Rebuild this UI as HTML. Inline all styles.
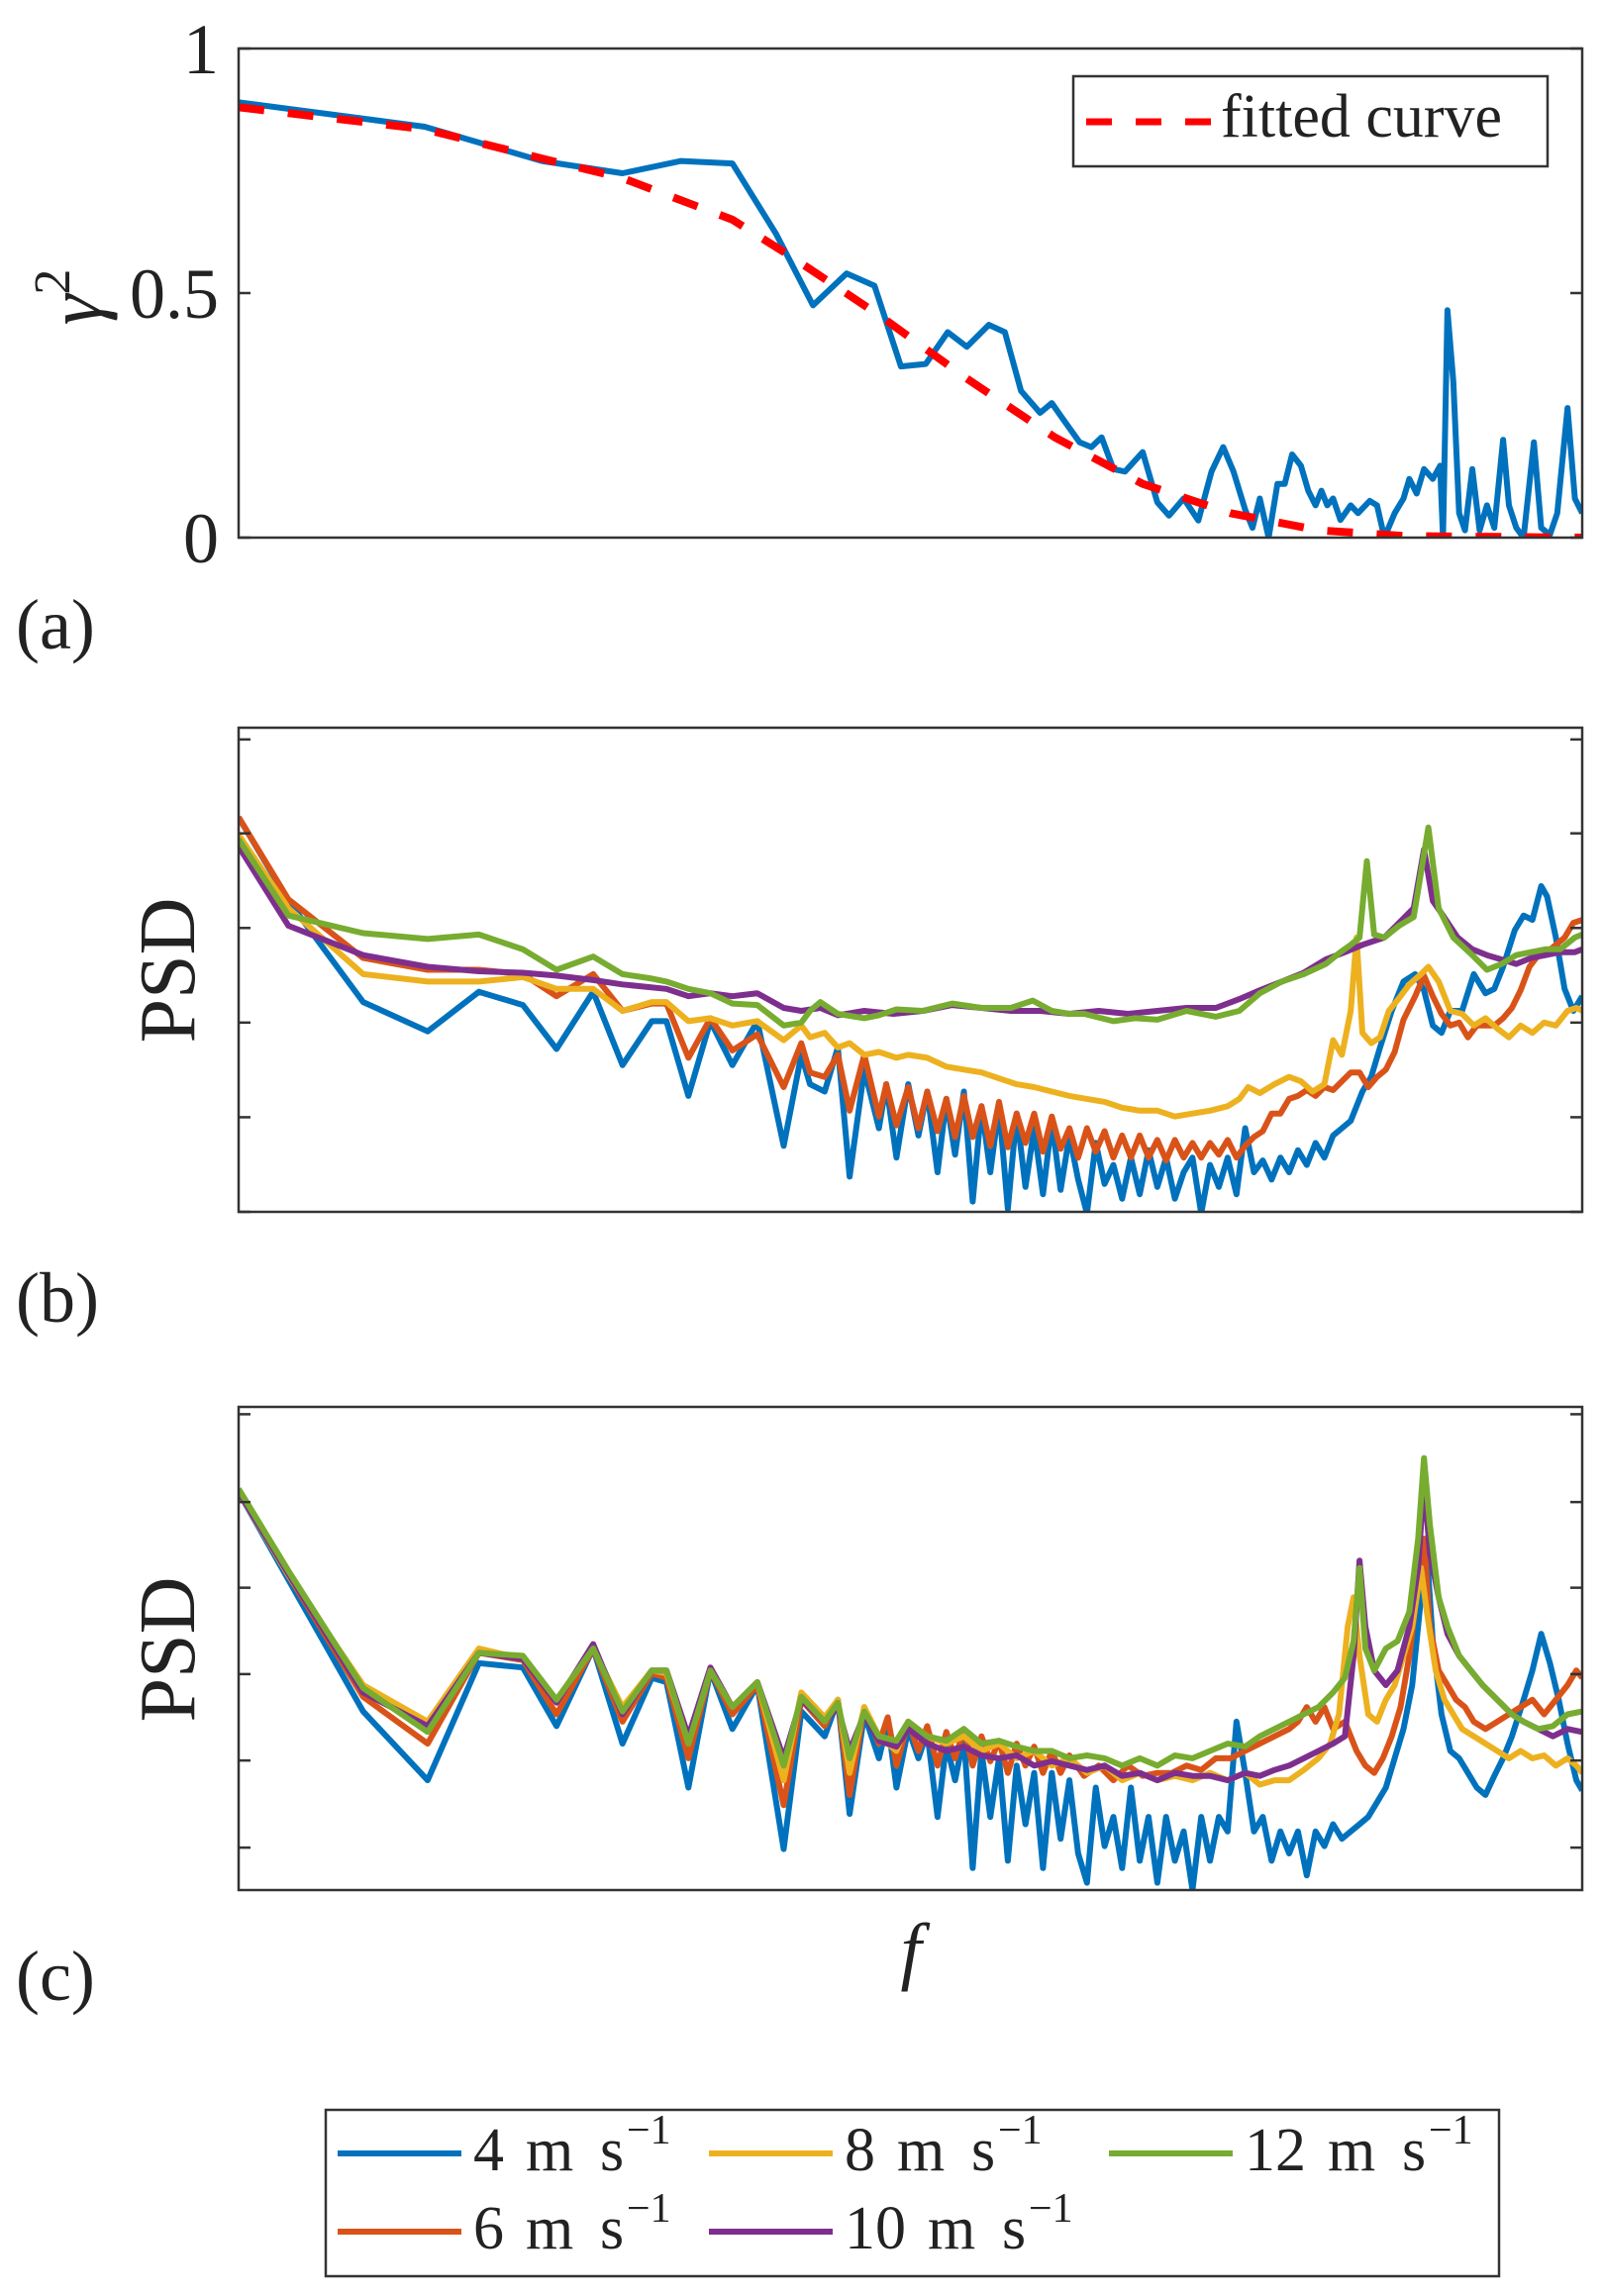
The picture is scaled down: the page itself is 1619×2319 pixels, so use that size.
<!DOCTYPE html>
<html><head><meta charset="utf-8"><style>
html,body{margin:0;padding:0;background:#fff;}
svg{display:block;}
text{font-family:"Liberation Serif","DejaVu Serif",serif;fill:#222;}
</style></head><body>
<svg id="fig" width="1619" height="2319" viewBox="0 0 1619 2319" xmlns="http://www.w3.org/2000/svg">
<defs>
<clipPath id="clipA"><rect x="241" y="49" width="1357" height="494"/></clipPath>
<clipPath id="clipB"><rect x="241" y="735" width="1357" height="489"/></clipPath>
<clipPath id="clipC"><rect x="241" y="1421" width="1357" height="488"/></clipPath>
</defs>
<g id="panelA"></g>
<g id="panelB"></g>
<g id="panelC"></g>

<text x="16" y="655" font-size="72">(a)</text>
<text x="16" y="1335" font-size="72">(b)</text>
<text x="16" y="2020" font-size="72">(c)</text>

<text transform="translate(102,300) rotate(-90)" text-anchor="middle" font-size="78" font-style="italic">γ<tspan font-size="52" font-style="normal" dy="-32">2</tspan></text>
<text transform="translate(196,980) rotate(-90)" text-anchor="middle" font-size="80">PSD</text>
<text transform="translate(196,1666) rotate(-90)" text-anchor="middle" font-size="80">PSD</text>
<text x="920" y="1995" text-anchor="middle" font-size="76" font-style="italic">f</text>

<g>
<rect x="1084" y="77" width="479" height="91" fill="#fff" stroke="#333" stroke-width="2.5"/>
<line x1="1097" y1="123" x2="1223" y2="123" stroke="#ff0000" stroke-width="7" stroke-dasharray="26 24"/>
<text x="1233" y="138" font-size="62">fitted curve</text>
</g>

<g id="legendMain">
<rect x="329" y="2131" width="1185" height="168" fill="#fff" stroke="#333" stroke-width="2.5"/>
</g>
</svg>
<script>
// ---------- data ----------
const fDomain = [163, 1080];
const cohTicks = [0, 0.5, 1];
const cohTickLabels = ["0", "0.5", "1"];
const psdTicksB = [0, 64.5, 129, 193.5, 258, 322];
const psdTicksC = [29, 88.5, 147.5, 206.5, 265, 325];
const seriesNums = ["4", "6", "8", "10", "12"];

const coherence = [[163,0.89],[290,0.84],[370,0.77],[425,0.745],[465,0.77],[500,0.765],[530,0.62],[555,0.475],[578,0.54],[597,0.515],[615,0.35],[632,0.355],[647,0.42],[660,0.39],[675,0.435],[686,0.42],[697,0.30],[710,0.255],[718,0.275],[725,0.245],[737,0.195],[745,0.185],[752,0.205],[760,0.14],[768,0.135],[780,0.175],[790,0.072],[798,0.045],[808,0.08],[818,0.035],[827,0.135],[835,0.185],[842,0.135],[850,0.057],[855,0.02],[860,0.08],[866,0.0],[872,0.11],[877,0.11],[882,0.17],[888,0.147],[893,0.096],[898,0.066],[902,0.096],[906,0.066],[910,0.08],[915,0.036],[922,0.066],[927,0.05],[935,0.075],[940,0.066],[945,0.0],[952,0.05],[958,0.08],[962,0.12],[967,0.09],[972,0.14],[978,0.12],[983,0.147],[985,0.0],[988,0.465],[992,0.32],[996,0.05],[1000,0.015],[1005,0.14],[1010,0.015],[1015,0.066],[1020,0.02],[1026,0.2],[1030,0.066],[1035,0.02],[1040,0.0],[1047,0.195],[1052,0.02],[1058,0.006],[1063,0.05],[1070,0.265],[1075,0.08],[1080,0.05]];
const fitted = [[163,0.88],[290,0.835],[370,0.775],[425,0.735],[500,0.65],[540,0.575],[600,0.455],[660,0.325],[720,0.205],[780,0.11],[840,0.05],[900,0.015],[960,0.003],[1080,0.0]];

const psdB_4 = [[163,269],[197,212],[248,143],[292,123],[327,150],[357,141],[380,111],[405,150],[425,100],[445,130],[455,130],[470,79],[485,130],[500,100],[517,130],[535,45],[547,107],[553,87],[563,82],[572,112],[580,24],[590,97],[600,57],[605,87],[612,37],[620,87],[627,52],[633,82],[640,27],[646,77],[652,39],[658,82],[664,7],[670,72],[676,27],[682,72],[688,2],[694,67],[700,17],[706,57],[712,12],[718,62],[724,15],[730,52],[736,22],[742,-1],[748,47],[754,19],[760,32],[766,9],[772,37],[778,12],[784,42],[790,17],[796,37],[802,9],[808,27],[814,37],[820,-1],[826,32],[832,17],[838,37],[844,12],[850,57],[856,27],[862,35],[868,22],[874,37],[880,27],[886,42],[892,32],[898,47],[904,37],[910,52],[916,57],[922,62],[930,82],[936,92],[942,112],[950,137],[958,157],[966,162],[972,151],[978,127],[984,122],[990,137],[998,137],[1006,162],[1014,149],[1020,152],[1026,167],[1034,192],[1040,202],[1046,199],[1052,222],[1056,215],[1062,187],[1068,152],[1074,137],[1080,147]];
const psdB_6 = [[163,269],[197,213],[248,173],[292,165],[327,165],[357,162],[380,147],[405,162],[425,137],[445,142],[455,142],[470,105],[485,132],[500,110],[517,121],[535,85],[547,115],[553,95],[563,92],[572,107],[580,69],[590,107],[600,65],[605,87],[612,59],[620,85],[627,57],[633,82],[640,55],[646,77],[652,51],[658,79],[664,51],[670,72],[676,45],[682,75],[688,44],[694,67],[700,47],[706,67],[712,41],[718,65],[724,43],[730,57],[736,37],[742,57],[748,41],[754,55],[760,37],[766,52],[772,37],[778,52],[784,37],[790,49],[796,35],[802,49],[808,37],[814,47],[820,37],[826,47],[832,39],[838,49],[844,37],[850,45],[856,51],[862,55],[868,67],[874,67],[880,77],[886,79],[892,83],[898,79],[904,85],[910,83],[916,89],[922,95],[928,95],[934,85],[940,92],[946,97],[952,109],[958,131],[966,147],[972,161],[978,147],[984,135],[990,127],[996,129],[1002,119],[1008,127],[1014,127],[1020,127],[1026,132],[1032,139],[1038,151],[1044,167],[1050,175],[1056,177],[1062,182],[1068,187],[1074,197],[1080,199]];
const psdB_8 = [[163,257],[197,207],[248,162],[292,157],[327,157],[357,160],[380,152],[405,152],[425,137],[445,143],[455,143],[470,130],[485,132],[500,127],[517,130],[535,117],[547,127],[553,119],[563,122],[572,112],[580,115],[590,107],[600,109],[612,105],[620,107],[633,105],[646,99],[658,97],[670,95],[682,91],[694,87],[706,85],[718,82],[730,79],[742,77],[754,75],[766,71],[778,69],[790,69],[802,65],[814,67],[826,69],[838,72],[846,77],[852,85],[860,81],[870,87],[880,92],[888,89],[896,82],[904,87],[910,117],[916,107],[922,137],[926,187],[930,122],[936,115],[942,119],[948,137],[956,147],[962,155],[970,162],[975,167],[982,157],[990,137],[998,135],[1006,127],[1014,132],[1022,125],[1030,119],[1038,127],[1046,122],[1054,129],[1062,127],[1070,137],[1076,139],[1080,137]];
const psdB_10 = [[163,249],[197,195],[248,175],[292,167],[327,164],[357,163],[380,161],[405,158],[425,155],[455,152],[470,147],[485,149],[500,147],[517,149],[535,139],[547,137],[560,139],[572,134],[590,137],[610,135],[630,137],[650,141],[670,139],[690,137],[710,137],[730,135],[750,137],[770,135],[790,137],[810,139],[830,139],[846,145],[860,151],[875,157],[890,163],[905,172],[918,177],[930,182],[945,187],[955,197],[965,207],[972,247],[978,212],[985,202],[995,187],[1005,179],[1015,175],[1025,172],[1035,169],[1045,173],[1055,175],[1065,177],[1075,177],[1080,179]];
const psdB_12 = [[163,254],[197,202],[248,190],[292,186],[327,189],[357,179],[380,165],[405,174],[425,162],[445,159],[455,157],[470,152],[485,149],[500,142],[517,141],[535,127],[547,129],[553,137],[560,143],[572,135],[590,132],[600,134],[612,138],[630,137],[650,142],[670,139],[690,139],[705,144],[718,137],[730,135],[740,135],[760,130],[775,132],[790,131],[810,137],[830,133],[846,137],[860,149],[875,157],[890,162],[905,169],[915,177],[922,182],[928,187],[933,239],[938,189],[945,187],[955,195],[965,201],[975,262],[982,207],[992,187],[1005,175],[1015,165],[1025,169],[1035,175],[1045,177],[1055,179],[1065,179],[1075,187],[1080,189]];

const psdC_4 = [[163,272],[197,212],[248,122],[292,75],[327,155],[357,152],[380,112],[405,165],[425,100],[445,145],[455,142],[470,70],[485,150],[500,110],[517,140],[535,28],[547,122],[563,105],[572,130],[580,52],[590,120],[600,90],[606,115],[612,70],[620,110],[627,90],[633,108],[640,50],[646,100],[652,75],[658,105],[664,15],[670,95],[676,50],[682,90],[688,20],[694,85],[700,45],[706,80],[712,15],[718,80],[724,35],[730,75],[736,25],[742,5],[748,70],[754,30],[760,50],[766,15],[772,70],[778,20],[784,50],[790,5],[796,50],[802,20],[808,40],[814,0],[820,50],[826,20],[832,50],[838,40],[844,115],[850,80],[856,40],[862,50],[868,20],[874,40],[880,25],[886,40],[892,10],[898,40],[904,30],[910,45],[916,35],[922,40],[928,45],[934,50],[940,60],[946,70],[952,90],[958,110],[964,140],[970,200],[974,230],[978,170],[984,120],[990,95],[996,90],[1002,80],[1008,70],[1014,65],[1020,78],[1026,90],[1032,105],[1040,130],[1046,150],[1052,175],[1058,155],[1064,130],[1070,100],[1076,75],[1080,68]];
const psdC_6 = [[163,272],[197,215],[248,132],[292,100],[327,162],[357,157],[380,120],[405,165],[425,115],[445,148],[455,145],[470,90],[485,150],[500,120],[517,140],[535,58],[547,130],[563,112],[572,130],[580,65],[590,125],[600,100],[606,118],[612,85],[620,115],[627,95],[633,112],[640,85],[646,108],[652,90],[658,110],[664,85],[670,105],[676,88],[682,102],[688,80],[694,100],[700,85],[706,98],[712,80],[718,95],[724,80],[730,92],[740,78],[750,85],[760,75],[770,85],[780,78],[790,80],[800,80],[810,85],[820,82],[830,90],[840,90],[850,95],[860,100],[870,105],[880,110],[886,115],[892,125],[898,115],[904,125],[910,110],[918,115],[926,95],[932,85],[938,80],[944,90],[950,105],[956,125],[962,160],[968,210],[972,240],[976,180],[982,150],[988,140],[994,130],[1000,125],[1006,115],[1014,110],[1022,115],[1030,120],[1038,125],[1046,130],[1054,120],[1062,130],[1070,140],[1076,150],[1080,145]];
const psdC_8 = [[163,272],[197,215],[248,140],[292,115],[327,165],[357,158],[380,130],[405,165],[425,125],[445,150],[455,148],[470,100],[485,150],[500,125],[517,142],[535,75],[547,135],[563,118],[572,130],[580,80],[590,125],[600,105],[612,95],[620,115],[633,105],[646,100],[658,105],[670,95],[682,100],[694,90],[706,95],[718,85],[730,90],[742,80],[754,85],[766,75],[778,80],[790,75],[802,78],[814,75],[826,80],[838,75],[850,80],[860,72],[870,75],[880,75],[890,82],[900,90],[908,100],[914,120],[920,180],[924,200],[928,160],[934,120],[940,115],[946,130],[952,140],[958,160],[964,180],[970,220],[974,190],[980,150],[986,130],[992,120],[998,110],[1006,105],[1014,100],[1022,95],[1030,90],[1038,95],[1046,90],[1054,92],[1062,85],[1070,90],[1076,85],[1080,80]];
const psdC_10 = [[163,272],[197,216],[248,135],[292,112],[327,162],[357,158],[380,128],[405,168],[425,120],[445,150],[455,150],[470,105],[485,152],[500,125],[517,142],[535,90],[547,130],[563,115],[572,125],[580,95],[590,120],[600,102],[612,98],[620,110],[633,100],[646,95],[658,98],[670,92],[682,90],[694,92],[706,85],[718,88],[730,85],[742,82],[754,85],[766,78],[778,80],[790,75],[802,80],[814,78],[826,78],[838,75],[850,80],[860,78],[870,82],[880,85],[890,90],[900,95],[910,100],[918,105],[924,160],[928,225],[932,180],[938,150],[946,140],[954,150],[962,180],[968,220],[972,280],[976,230],[982,200],[988,175],[996,160],[1004,150],[1012,140],[1022,130],[1032,120],[1040,115],[1050,110],[1060,105],[1070,110],[1080,108]];
const psdC_12 = [[163,274],[197,218],[248,138],[292,108],[327,162],[357,160],[380,130],[405,165],[425,122],[445,150],[455,150],[470,100],[485,150],[500,125],[517,142],[535,85],[547,132],[563,115],[572,128],[580,90],[590,122],[600,105],[612,102],[620,115],[633,105],[646,102],[658,110],[670,100],[682,102],[694,98],[706,95],[718,95],[730,90],[742,92],[754,90],[766,85],[778,90],[790,85],[802,92],[814,90],[826,95],[838,100],[850,98],[860,105],[870,110],[880,115],[890,120],[900,125],[910,135],[918,145],[924,170],[928,220],[932,165],[938,150],[946,165],[954,170],[962,190],[968,240],[972,295],[976,250],[982,200],[988,180],[996,160],[1004,150],[1012,140],[1022,130],[1032,120],[1040,115],[1050,110],[1060,112],[1070,120],[1080,122]];

const colors = ["#0072BD", "#D95319", "#EDB120", "#7E2F8E", "#77AC30"];

// ---------- axes ----------
const NS = "http://www.w3.org/2000/svg";
const X0 = 241, X1 = 1598;
function xS(f){ return X0 + (f - fDomain[0]) / (fDomain[1] - fDomain[0]) * (X1 - X0); }
function yA(v){ return 543 - v * 494; }
function yB(p){ return 1224 - p / 330 * 489; }
function yC(p){ return 1909 - p / 330 * 488; }

function mk(tag, attrs, parent){
  const el = document.createElementNS(NS, tag);
  for (const k in attrs) el.setAttribute(k, attrs[k]);
  parent.appendChild(el);
  return el;
}
function poly(parent, data, yf, color, w, clip, name, dash){
  const pts = data.map(d => xS(d[0]).toFixed(1) + "," + yf(d[1]).toFixed(1)).join(" ");
  const el = mk("polyline", {points: pts, fill: "none", stroke: color, "stroke-width": w, "stroke-linejoin": "round", "clip-path": "url(#" + clip + ")"}, parent);
  if (dash) el.setAttribute("stroke-dasharray", dash);
  
  
  return el;
}
function frame(parent, top, bottom, ticks, yf, name){
  const r = mk("rect", {x: X0, y: top, width: X1 - X0, height: bottom - top, fill: "none", stroke: "#333", "stroke-width": 2.5}, parent);
  
  
  ticks.forEach(t => {
    const y = yf(t);
    const a = mk("line", {x1: X0, x2: X0 + 12, y1: y, y2: y, stroke: "#333", "stroke-width": 2.5}, parent);
    
    
    const b = mk("line", {x1: X1 - 12, x2: X1, y1: y, y2: y, stroke: "#333", "stroke-width": 2.5}, parent);
    
    
  });
}

const pa = document.getElementById("panelA");
poly(pa, coherence, yA, colors[0], 6, "clipA", "coherence-line");
poly(pa, fitted, yA, "#ff0000", 8, "clipA", "fitted-curve-line", "26 24");
frame(pa, 49, 543, cohTicks, yA, "axes-frame-a");
cohTicks.forEach((t, i) => {
  const tx = mk("text", {x: 221, y: yA(t) + 25, "text-anchor": "end", "font-size": 72}, pa);
  tx.textContent = cohTickLabels[i];
  
  
});

const pb = document.getElementById("panelB");
[psdB_4, psdB_6, psdB_8, psdB_10, psdB_12].forEach((s, i) => {
  poly(pb, s, yB, colors[i], 6, "clipB", "psd-b-line-" + seriesNums[i]);
});
frame(pb, 735, 1224, psdTicksB, yB, "axes-frame-b");

const pc = document.getElementById("panelC");
[psdC_4, psdC_6, psdC_8, psdC_10, psdC_12].forEach((s, i) => {
  poly(pc, s, yC, colors[i], 6, "clipC", "psd-c-line-" + seriesNums[i]);
});
frame(pc, 1421, 1909, psdTicksC, yC, "axes-frame-c");

const lg = document.getElementById("legendMain");
const lpos = [[341, 2175], [341, 2254], [716, 2175], [716, 2254], [1120, 2175]];
lpos.forEach((p, i) => {
  const g = mk("g", {}, lg);
  
  
  const ln = mk("line", {x1: p[0], x2: p[0] + 125, y1: p[1], y2: p[1], stroke: colors[i], "stroke-width": 6}, g);
  
  
  const tx0 = p[0] + 137, base = p[1] + 17;
  const extra = seriesNums[i].length > 1 ? 31 : 0;
  const n = mk("text", {x: tx0, y: base, "font-size": 62}, g);
  n.textContent = seriesNums[i];
  
  
  const m = mk("text", {x: tx0 + 53 + extra, y: base, "font-size": 62}, g);
  m.textContent = "m";
  
  
  const s = mk("text", {x: tx0 + 128 + extra, y: base, "font-size": 62}, g);
  s.textContent = "s";
  
  
  const sup = mk("text", {x: tx0 + 155 + extra, y: base - 27, "font-size": 42}, g);
  sup.textContent = "\u22121";
  
  
});
</script>
</body></html>
